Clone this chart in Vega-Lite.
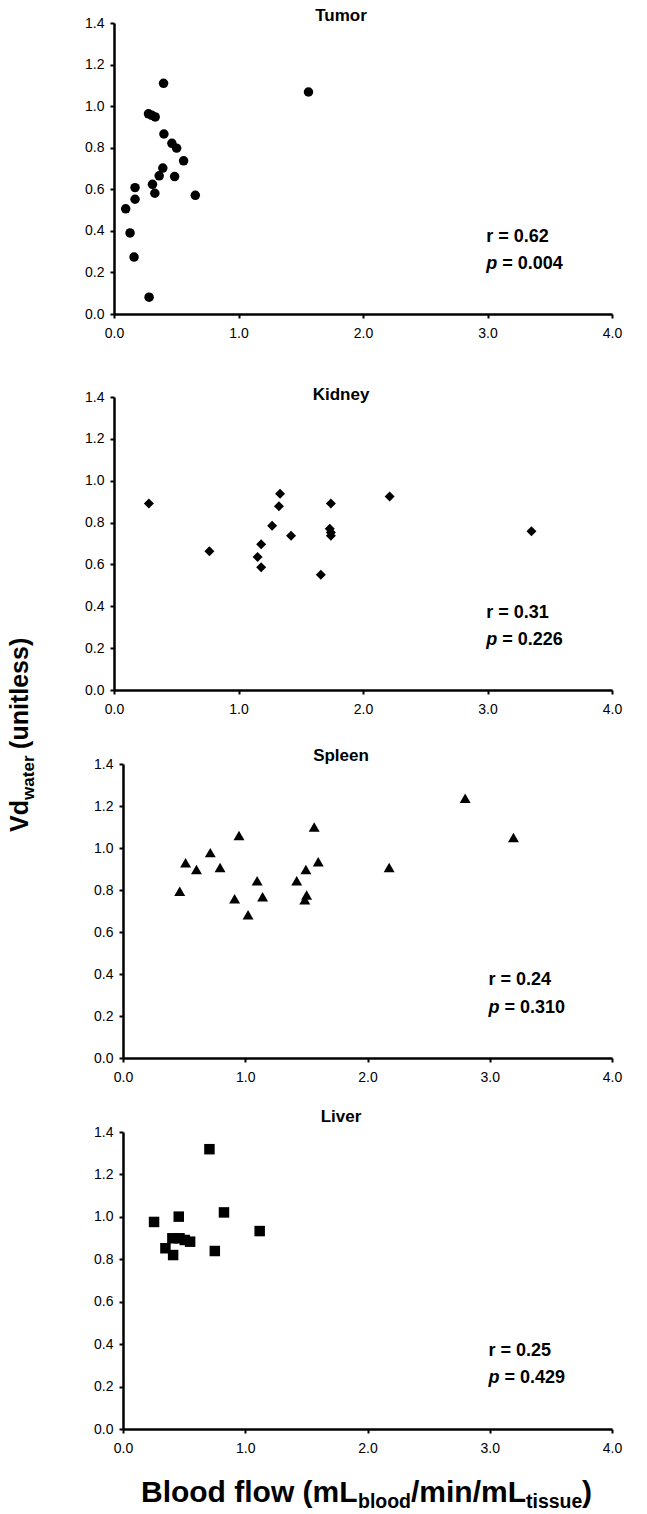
{
  "$schema": "https://vega.github.io/schema/vega-lite/v6.json",
  "background": "white",
  "padding": {"left": 8, "top": 7, "right": 10, "bottom": 0},
  "bounds": "flush",
  "spacing": 74,
  "config": {
    "font": "Liberation Sans",
    "view": {"stroke": null},
    "axis": {"grid": false, "domainColor": "black", "domainWidth": 2.5, "tickColor": "black", "tickWidth": 2, "tickSize": 4, "labelFont": "Liberation Sans", "labelFontSize": 14, "labelColor": "black", "labelFlush": false, "labelOverlap": false},
    "axisX": {"labelPadding": 8},
    "axisY": {"labelPadding": 6},
    "title": {"font": "Liberation Sans", "fontSize": 17, "fontWeight": "bold", "color": "black", "anchor": "middle", "frame": "group"}
  },
  "datasets": {
    "points": [
      {"organ": "Tumor", "flow": 0.094, "vd": 0.506}, {"organ": "Tumor", "flow": 0.129, "vd": 0.39}, {"organ": "Tumor", "flow": 0.161, "vd": 0.274}, {"organ": "Tumor", "flow": 0.169, "vd": 0.552}, {"organ": "Tumor", "flow": 0.169, "vd": 0.608}, {"organ": "Tumor", "flow": 0.282, "vd": 0.081}, {"organ": "Tumor", "flow": 0.277, "vd": 0.963}, {"organ": "Tumor", "flow": 0.304, "vd": 0.956}, {"organ": "Tumor", "flow": 0.331, "vd": 0.948}, {"organ": "Tumor", "flow": 0.309, "vd": 0.624}, {"organ": "Tumor", "flow": 0.328, "vd": 0.581}, {"organ": "Tumor", "flow": 0.363, "vd": 0.665}, {"organ": "Tumor", "flow": 0.392, "vd": 0.702}, {"organ": "Tumor", "flow": 0.398, "vd": 1.11}, {"organ": "Tumor", "flow": 0.401, "vd": 0.866}, {"organ": "Tumor", "flow": 0.465, "vd": 0.821}, {"organ": "Tumor", "flow": 0.503, "vd": 0.798}, {"organ": "Tumor", "flow": 0.487, "vd": 0.661}, {"organ": "Tumor", "flow": 0.559, "vd": 0.737}, {"organ": "Tumor", "flow": 0.653, "vd": 0.571}, {"organ": "Tumor", "flow": 1.562, "vd": 1.068},
      {"organ": "Kidney", "flow": 0.28, "vd": 0.891}, {"organ": "Kidney", "flow": 0.766, "vd": 0.663}, {"organ": "Kidney", "flow": 1.153, "vd": 0.636}, {"organ": "Kidney", "flow": 1.182, "vd": 0.696}, {"organ": "Kidney", "flow": 1.182, "vd": 0.587}, {"organ": "Kidney", "flow": 1.27, "vd": 0.785}, {"organ": "Kidney", "flow": 1.325, "vd": 0.878}, {"organ": "Kidney", "flow": 1.334, "vd": 0.938}, {"organ": "Kidney", "flow": 1.422, "vd": 0.737}, {"organ": "Kidney", "flow": 1.661, "vd": 0.551}, {"organ": "Kidney", "flow": 1.742, "vd": 0.891}, {"organ": "Kidney", "flow": 1.733, "vd": 0.771}, {"organ": "Kidney", "flow": 1.742, "vd": 0.752}, {"organ": "Kidney", "flow": 1.742, "vd": 0.737}, {"organ": "Kidney", "flow": 2.214, "vd": 0.924}, {"organ": "Kidney", "flow": 3.353, "vd": 0.759},
      {"organ": "Spleen", "flow": 0.464, "vd": 0.794}, {"organ": "Spleen", "flow": 0.512, "vd": 0.93}, {"organ": "Spleen", "flow": 0.601, "vd": 0.898}, {"organ": "Spleen", "flow": 0.714, "vd": 0.978}, {"organ": "Spleen", "flow": 0.794, "vd": 0.907}, {"organ": "Spleen", "flow": 0.913, "vd": 0.758}, {"organ": "Spleen", "flow": 0.949, "vd": 1.059}, {"organ": "Spleen", "flow": 1.023, "vd": 0.682}, {"organ": "Spleen", "flow": 1.097, "vd": 0.844}, {"organ": "Spleen", "flow": 1.142, "vd": 0.768}, {"organ": "Spleen", "flow": 1.421, "vd": 0.844}, {"organ": "Spleen", "flow": 1.496, "vd": 0.898}, {"organ": "Spleen", "flow": 1.487, "vd": 0.754}, {"organ": "Spleen", "flow": 1.502, "vd": 0.776}, {"organ": "Spleen", "flow": 1.564, "vd": 1.1}, {"organ": "Spleen", "flow": 1.597, "vd": 0.934}, {"organ": "Spleen", "flow": 2.177, "vd": 0.907}, {"organ": "Spleen", "flow": 2.799, "vd": 1.237}, {"organ": "Spleen", "flow": 3.194, "vd": 1.05},
      {"organ": "Liver", "flow": 0.254, "vd": 0.976}, {"organ": "Liver", "flow": 0.456, "vd": 1.001}, {"organ": "Liver", "flow": 0.347, "vd": 0.852}, {"organ": "Liver", "flow": 0.41, "vd": 0.82}, {"organ": "Liver", "flow": 0.404, "vd": 0.899}, {"organ": "Liver", "flow": 0.462, "vd": 0.899}, {"organ": "Liver", "flow": 0.505, "vd": 0.891}, {"organ": "Liver", "flow": 0.549, "vd": 0.883}, {"organ": "Liver", "flow": 0.707, "vd": 1.319}, {"organ": "Liver", "flow": 0.751, "vd": 0.839}, {"organ": "Liver", "flow": 0.826, "vd": 1.021}, {"organ": "Liver", "flow": 1.118, "vd": 0.933}
    ],
    "stats": [
      {"organ": "Tumor", "r": "r = 0.62", "p": "= 0.004"},
      {"organ": "Kidney", "r": "r = 0.31", "p": "= 0.226"},
      {"organ": "Spleen", "r": "r = 0.24", "p": "= 0.310"},
      {"organ": "Liver", "r": "r = 0.25", "p": "= 0.429"}
    ],
    "labels": [
      {"id": "y1", "text": "Vd"}, {"id": "y2", "text": "water"}, {"id": "y3", "text": "(unitless)"},
      {"id": "x1", "text": "Blood flow (mL"}, {"id": "x2", "text": "blood"}, {"id": "x3", "text": "/min/mL"}, {"id": "x4", "text": "tissue"}, {"id": "x5", "text": ")"}
    ]
  },
  "vconcat": [
    {
      "width": 498, "height": 291,
      "title": {"text": "Tumor", "offset": -9, "dx": -22},
      "layer": [
        {"data": {"name": "points"}, "transform": [{"filter": "datum.organ === 'Tumor'"}],
         "mark": {"type": "point", "shape": "circle", "filled": true, "color": "black", "opacity": 1, "size": 90},
         "encoding": {
           "x": {"field": "flow", "type": "quantitative", "scale": {"domain": [0, 4], "nice": false}, "axis": {"title": null, "values": [0, 1, 2, 3, 4], "format": ".1f"}},
           "y": {"field": "vd", "type": "quantitative", "scale": {"domain": [0, 1.4], "nice": false}, "axis": {"title": null, "values": [0, 0.2, 0.4, 0.6, 0.8, 1.0, 1.2, 1.4], "format": ".1f"}}}},
        {"data": {"name": "stats"}, "transform": [{"filter": "datum.organ === 'Tumor'"}],
         "mark": {"type": "text", "align": "left", "baseline": "middle", "fontSize": 18, "fontWeight": "bold", "color": "black"},
         "encoding": {"x": {"datum": 2.99, "type": "quantitative", "scale": {"domain": [0, 4], "nice": false}, "title": null}, "y": {"datum": 0.37, "type": "quantitative", "scale": {"domain": [0, 1.4], "nice": false}, "title": null}, "text": {"field": "r"}}},
        {"data": {"name": "stats"}, "transform": [{"filter": "datum.organ === 'Tumor'"}],
         "mark": {"type": "text", "text": "p", "align": "left", "baseline": "middle", "fontSize": 18, "fontWeight": "bold", "fontStyle": "italic", "color": "black"},
         "encoding": {"x": {"datum": 2.99, "type": "quantitative", "scale": {"domain": [0, 4], "nice": false}, "title": null}, "y": {"datum": 0.24, "type": "quantitative", "scale": {"domain": [0, 1.4], "nice": false}, "title": null}}},
        {"data": {"name": "stats"}, "transform": [{"filter": "datum.organ === 'Tumor'"}],
         "mark": {"type": "text", "align": "left", "baseline": "middle", "fontSize": 18, "fontWeight": "bold", "color": "black", "dx": 16},
         "encoding": {"x": {"datum": 2.99, "type": "quantitative", "scale": {"domain": [0, 4], "nice": false}, "title": null}, "y": {"datum": 0.24, "type": "quantitative", "scale": {"domain": [0, 1.4], "nice": false}, "title": null}, "text": {"field": "p"}}}
      ]
    },
    {
      "width": 498, "height": 302,
      "title": {"text": "Kidney", "offset": -16, "dx": -22},
      "layer": [
        {"data": {"name": "points"}, "transform": [{"filter": "datum.organ === 'Kidney'"}],
         "mark": {"type": "point", "shape": "diamond", "filled": true, "color": "black", "opacity": 1, "size": 100},
         "encoding": {
           "x": {"field": "flow", "type": "quantitative", "scale": {"domain": [0, 4], "nice": false}, "axis": {"title": null, "values": [0, 1, 2, 3, 4], "format": ".1f"}},
           "y": {"field": "vd", "type": "quantitative", "scale": {"domain": [0, 1.4], "nice": false, "range": [302, 9]}, "axis": {"title": null, "values": [0, 0.2, 0.4, 0.6, 0.8, 1.0, 1.2, 1.4], "format": ".1f"}}}},
        {"data": {"name": "stats"}, "transform": [{"filter": "datum.organ === 'Kidney'"}],
         "mark": {"type": "text", "align": "left", "baseline": "middle", "fontSize": 18, "fontWeight": "bold", "color": "black"},
         "encoding": {"x": {"datum": 2.99, "type": "quantitative", "scale": {"domain": [0, 4], "nice": false}, "title": null}, "y": {"datum": 0.37, "type": "quantitative", "scale": {"domain": [0, 1.4], "nice": false, "range": [302, 9]}, "title": null}, "text": {"field": "r"}}},
        {"data": {"name": "stats"}, "transform": [{"filter": "datum.organ === 'Kidney'"}],
         "mark": {"type": "text", "text": "p", "align": "left", "baseline": "middle", "fontSize": 18, "fontWeight": "bold", "fontStyle": "italic", "color": "black"},
         "encoding": {"x": {"datum": 2.99, "type": "quantitative", "scale": {"domain": [0, 4], "nice": false}, "title": null}, "y": {"datum": 0.24, "type": "quantitative", "scale": {"domain": [0, 1.4], "nice": false, "range": [302, 9]}, "title": null}}},
        {"data": {"name": "stats"}, "transform": [{"filter": "datum.organ === 'Kidney'"}],
         "mark": {"type": "text", "align": "left", "baseline": "middle", "fontSize": 18, "fontWeight": "bold", "color": "black", "dx": 16},
         "encoding": {"x": {"datum": 2.99, "type": "quantitative", "scale": {"domain": [0, 4], "nice": false}, "title": null}, "y": {"datum": 0.24, "type": "quantitative", "scale": {"domain": [0, 1.4], "nice": false, "range": [302, 9]}, "title": null}, "text": {"field": "p"}}},
        {"data": {"name": "labels"}, "transform": [{"filter": "datum.id === 'y1'"}],
         "mark": {"type": "text", "angle": 270, "align": "left", "baseline": "alphabetic", "fontSize": 25, "fontWeight": "bold", "color": "black"},
         "encoding": {"x": {"datum": -0.69, "type": "quantitative", "scale": {"domain": [0, 4], "nice": false}, "title": null}, "y": {"datum": -0.678, "type": "quantitative", "scale": {"domain": [0, 1.4], "nice": false, "range": [302, 9]}, "title": null}, "text": {"field": "text"}}},
        {"data": {"name": "labels"}, "transform": [{"filter": "datum.id === 'y2'"}],
         "mark": {"type": "text", "angle": 270, "align": "left", "baseline": "alphabetic", "fontSize": 17, "fontWeight": "bold", "color": "black", "dx": 32, "dy": 6},
         "encoding": {"x": {"datum": -0.69, "type": "quantitative", "scale": {"domain": [0, 4], "nice": false}, "title": null}, "y": {"datum": -0.678, "type": "quantitative", "scale": {"domain": [0, 1.4], "nice": false, "range": [302, 9]}, "title": null}, "text": {"field": "text"}}},
        {"data": {"name": "labels"}, "transform": [{"filter": "datum.id === 'y3'"}],
         "mark": {"type": "text", "angle": 270, "align": "left", "baseline": "alphabetic", "fontSize": 25, "fontWeight": "bold", "color": "black", "dx": 83},
         "encoding": {"x": {"datum": -0.69, "type": "quantitative", "scale": {"domain": [0, 4], "nice": false}, "title": null}, "y": {"datum": -0.678, "type": "quantitative", "scale": {"domain": [0, 1.4], "nice": false, "range": [302, 9]}, "title": null}, "text": {"field": "text"}}}
      ]
    },
    {
      "width": 498, "height": 294,
      "title": {"text": "Spleen", "offset": -8, "dx": -22},
      "layer": [
        {"data": {"name": "points"}, "transform": [{"filter": "datum.organ === 'Spleen'"}],
         "mark": {"type": "point", "shape": "triangle-up", "filled": true, "color": "black", "opacity": 1, "size": 120},
         "encoding": {
           "x": {"field": "flow", "type": "quantitative", "scale": {"domain": [0, 4], "nice": false, "range": [9, 498]}, "axis": {"title": null, "values": [0, 1, 2, 3, 4], "format": ".1f"}},
           "y": {"field": "vd", "type": "quantitative", "scale": {"domain": [0, 1.4], "nice": false}, "axis": {"title": null, "values": [0, 0.2, 0.4, 0.6, 0.8, 1.0, 1.2, 1.4], "format": ".1f", "offset": -9}}}},
        {"data": {"name": "stats"}, "transform": [{"filter": "datum.organ === 'Spleen'"}],
         "mark": {"type": "text", "align": "left", "baseline": "middle", "fontSize": 18, "fontWeight": "bold", "color": "black"},
         "encoding": {"x": {"datum": 2.99, "type": "quantitative", "scale": {"domain": [0, 4], "nice": false, "range": [9, 498]}, "title": null}, "y": {"datum": 0.37, "type": "quantitative", "scale": {"domain": [0, 1.4], "nice": false}, "title": null}, "text": {"field": "r"}}},
        {"data": {"name": "stats"}, "transform": [{"filter": "datum.organ === 'Spleen'"}],
         "mark": {"type": "text", "text": "p", "align": "left", "baseline": "middle", "fontSize": 18, "fontWeight": "bold", "fontStyle": "italic", "color": "black"},
         "encoding": {"x": {"datum": 2.99, "type": "quantitative", "scale": {"domain": [0, 4], "nice": false, "range": [9, 498]}, "title": null}, "y": {"datum": 0.24, "type": "quantitative", "scale": {"domain": [0, 1.4], "nice": false}, "title": null}}},
        {"data": {"name": "stats"}, "transform": [{"filter": "datum.organ === 'Spleen'"}],
         "mark": {"type": "text", "align": "left", "baseline": "middle", "fontSize": 18, "fontWeight": "bold", "color": "black", "dx": 16},
         "encoding": {"x": {"datum": 2.99, "type": "quantitative", "scale": {"domain": [0, 4], "nice": false, "range": [9, 498]}, "title": null}, "y": {"datum": 0.24, "type": "quantitative", "scale": {"domain": [0, 1.4], "nice": false}, "title": null}, "text": {"field": "p"}}}
      ]
    },
    {
      "width": 498, "height": 297,
      "title": {"text": "Liver", "offset": -1, "dx": -22},
      "layer": [
        {"data": {"name": "points"}, "transform": [{"filter": "datum.organ === 'Liver'"}],
         "mark": {"type": "point", "shape": "square", "filled": true, "color": "black", "opacity": 1, "size": 110},
         "encoding": {
           "x": {"field": "flow", "type": "quantitative", "scale": {"domain": [0, 4], "nice": false, "range": [9, 498]}, "axis": {"title": null, "values": [0, 1, 2, 3, 4], "format": ".1f"}},
           "y": {"field": "vd", "type": "quantitative", "scale": {"domain": [0, 1.4], "nice": false}, "axis": {"title": null, "values": [0, 0.2, 0.4, 0.6, 0.8, 1.0, 1.2, 1.4], "format": ".1f", "offset": -9}}}},
        {"data": {"name": "stats"}, "transform": [{"filter": "datum.organ === 'Liver'"}],
         "mark": {"type": "text", "align": "left", "baseline": "middle", "fontSize": 18, "fontWeight": "bold", "color": "black"},
         "encoding": {"x": {"datum": 2.99, "type": "quantitative", "scale": {"domain": [0, 4], "nice": false, "range": [9, 498]}, "title": null}, "y": {"datum": 0.37, "type": "quantitative", "scale": {"domain": [0, 1.4], "nice": false}, "title": null}, "text": {"field": "r"}}},
        {"data": {"name": "stats"}, "transform": [{"filter": "datum.organ === 'Liver'"}],
         "mark": {"type": "text", "text": "p", "align": "left", "baseline": "middle", "fontSize": 18, "fontWeight": "bold", "fontStyle": "italic", "color": "black"},
         "encoding": {"x": {"datum": 2.99, "type": "quantitative", "scale": {"domain": [0, 4], "nice": false, "range": [9, 498]}, "title": null}, "y": {"datum": 0.24, "type": "quantitative", "scale": {"domain": [0, 1.4], "nice": false}, "title": null}}},
        {"data": {"name": "stats"}, "transform": [{"filter": "datum.organ === 'Liver'"}],
         "mark": {"type": "text", "align": "left", "baseline": "middle", "fontSize": 18, "fontWeight": "bold", "color": "black", "dx": 16},
         "encoding": {"x": {"datum": 2.99, "type": "quantitative", "scale": {"domain": [0, 4], "nice": false, "range": [9, 498]}, "title": null}, "y": {"datum": 0.24, "type": "quantitative", "scale": {"domain": [0, 1.4], "nice": false}, "title": null}, "text": {"field": "p"}}},
        {"data": {"name": "labels"}, "transform": [{"filter": "datum.id === 'x1'"}],
         "mark": {"type": "text", "align": "left", "baseline": "alphabetic", "fontSize": 30, "fontWeight": "bold", "color": "black"},
         "encoding": {"x": {"datum": 0.147, "type": "quantitative", "scale": {"domain": [0, 4], "nice": false, "range": [9, 498]}, "title": null}, "y": {"datum": -0.344, "type": "quantitative", "scale": {"domain": [0, 1.4], "nice": false}, "title": null}, "text": {"field": "text"}}},
        {"data": {"name": "labels"}, "transform": [{"filter": "datum.id === 'x2'"}],
         "mark": {"type": "text", "align": "left", "baseline": "alphabetic", "fontSize": 19.5, "fontWeight": "bold", "color": "black", "dx": 217, "dy": 6},
         "encoding": {"x": {"datum": 0.147, "type": "quantitative", "scale": {"domain": [0, 4], "nice": false, "range": [9, 498]}, "title": null}, "y": {"datum": -0.344, "type": "quantitative", "scale": {"domain": [0, 1.4], "nice": false}, "title": null}, "text": {"field": "text"}}},
        {"data": {"name": "labels"}, "transform": [{"filter": "datum.id === 'x3'"}],
         "mark": {"type": "text", "align": "left", "baseline": "alphabetic", "fontSize": 30, "fontWeight": "bold", "color": "black", "dx": 270},
         "encoding": {"x": {"datum": 0.147, "type": "quantitative", "scale": {"domain": [0, 4], "nice": false, "range": [9, 498]}, "title": null}, "y": {"datum": -0.344, "type": "quantitative", "scale": {"domain": [0, 1.4], "nice": false}, "title": null}, "text": {"field": "text"}}},
        {"data": {"name": "labels"}, "transform": [{"filter": "datum.id === 'x4'"}],
         "mark": {"type": "text", "align": "left", "baseline": "alphabetic", "fontSize": 19.5, "fontWeight": "bold", "color": "black", "dx": 385, "dy": 6},
         "encoding": {"x": {"datum": 0.147, "type": "quantitative", "scale": {"domain": [0, 4], "nice": false, "range": [9, 498]}, "title": null}, "y": {"datum": -0.344, "type": "quantitative", "scale": {"domain": [0, 1.4], "nice": false}, "title": null}, "text": {"field": "text"}}},
        {"data": {"name": "labels"}, "transform": [{"filter": "datum.id === 'x5'"}],
         "mark": {"type": "text", "align": "left", "baseline": "alphabetic", "fontSize": 30, "fontWeight": "bold", "color": "black", "dx": 441},
         "encoding": {"x": {"datum": 0.147, "type": "quantitative", "scale": {"domain": [0, 4], "nice": false, "range": [9, 498]}, "title": null}, "y": {"datum": -0.344, "type": "quantitative", "scale": {"domain": [0, 1.4], "nice": false}, "title": null}, "text": {"field": "text"}}}
      ]
    }
  ]
}
